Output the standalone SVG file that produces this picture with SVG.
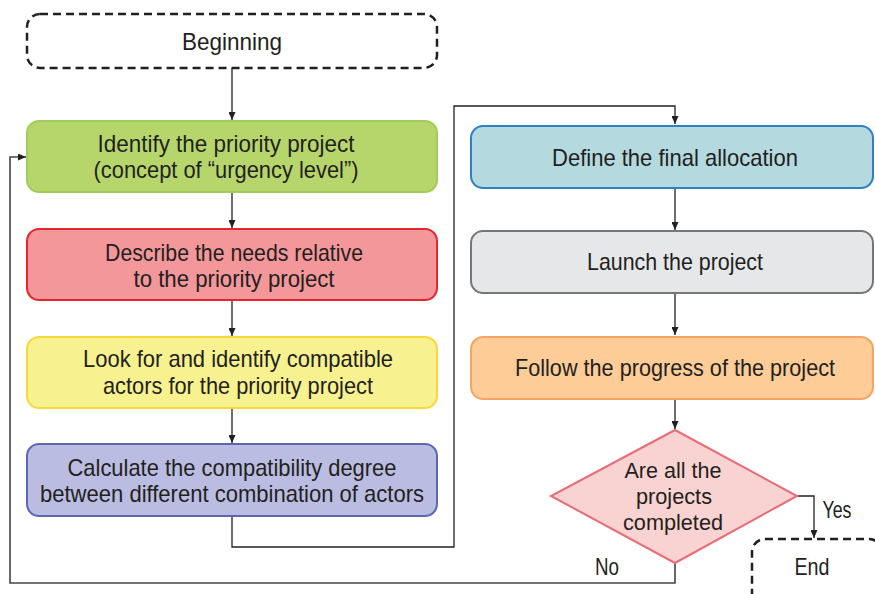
<svg xmlns="http://www.w3.org/2000/svg" width="875" height="594" viewBox="0 0 875 594">
<defs>
<marker id="arr" markerWidth="8" markerHeight="7" refX="8" refY="3.5" orient="auto" markerUnits="userSpaceOnUse">
<path d="M0,0 L8,3.5 L0,7 z" fill="#231f20"/>
</marker>
</defs>
<style>
text{font-family:"Liberation Sans",Arial,sans-serif;font-size:24px;fill:#231f20;text-anchor:middle}
.dt{font-size:22px}
.box{stroke-width:2}
.dash{fill:#fff;stroke:#231f20;stroke-width:2.5;stroke-dasharray:8 5}
.con{fill:none;stroke:#231f20;stroke-width:1.3}
</style>
<rect width="875" height="594" fill="#fff"/>
<g id="connectors">
<path class="con" d="M232 68 V120" marker-end="url(#arr)"/>
<path class="con" d="M232 192 V228" marker-end="url(#arr)"/>
<path class="con" d="M232 301 V336" marker-end="url(#arr)"/>
<path class="con" d="M232 408 V443" marker-end="url(#arr)"/>
<path class="con" d="M232 517 V547 H454 V106 H675 V124" marker-end="url(#arr)"/>
<path class="con" d="M675 188 V230" marker-end="url(#arr)"/>
<path class="con" d="M675 293 V335" marker-end="url(#arr)"/>
<path class="con" d="M675 399 V429" marker-end="url(#arr)"/>
<path class="con" d="M797 496 H814 V538" marker-end="url(#arr)"/>
<path class="con" d="M675 563 V583 H10 V157 H26" marker-end="url(#arr)" style="stroke:#444;stroke-width:1.6"/>
<text x="837" y="518" textLength="29" lengthAdjust="spacingAndGlyphs">Yes</text>
<text x="607" y="575" textLength="24" lengthAdjust="spacingAndGlyphs">No</text>
</g>
<g id="beginning">
<rect class="dash" x="27" y="14" width="410" height="54" rx="13"/>
<text x="232" y="50" textLength="100" lengthAdjust="spacingAndGlyphs">Beginning</text>
</g>
<g id="identify">
<rect class="box" x="27" y="121" width="410" height="71" rx="12" fill="#b6d66c" stroke="#a0cc5a"/>
<text x="226" y="152" textLength="257" lengthAdjust="spacingAndGlyphs">Identify the priority project</text>
<text x="226" y="178" textLength="265" lengthAdjust="spacingAndGlyphs">(concept of “urgency level”)</text>
</g>
<g id="describe">
<rect class="box" x="27" y="229" width="410" height="71" rx="12" fill="#f4979a" stroke="#e4262d"/>
<text x="234" y="261" textLength="258" lengthAdjust="spacingAndGlyphs">Describe the needs relative</text>
<text x="234" y="287" textLength="201" lengthAdjust="spacingAndGlyphs">to the priority project</text>
</g>
<g id="look">
<rect class="box" x="27" y="337" width="410" height="71" rx="12" fill="#f7f18f" stroke="#f5d93c"/>
<text x="238" y="367" textLength="310" lengthAdjust="spacingAndGlyphs">Look for and identify compatible</text>
<text x="238" y="394" textLength="270" lengthAdjust="spacingAndGlyphs">actors for the priority project</text>
</g>
<g id="calculate">
<rect class="box" x="27" y="444" width="410" height="72" rx="12" fill="#babde1" stroke="#5b67b0"/>
<text x="232" y="476" textLength="329" lengthAdjust="spacingAndGlyphs">Calculate the compatibility degree</text>
<text x="232" y="502" textLength="384" lengthAdjust="spacingAndGlyphs">between different combination of actors</text>
</g>
<g id="define">
<rect class="box" x="471" y="126" width="402" height="62" rx="12" fill="#b4d9df" stroke="#2f80c4"/>
<text x="675" y="166" textLength="246" lengthAdjust="spacingAndGlyphs">Define the final allocation</text>
</g>
<g id="launch">
<rect class="box" x="471" y="231" width="402" height="62" rx="12" fill="#e6e7e9" stroke="#777"/>
<text x="675" y="270" textLength="176" lengthAdjust="spacingAndGlyphs">Launch the project</text>
</g>
<g id="follow">
<rect class="box" x="471" y="337" width="402" height="62" rx="12" fill="#fdcc97" stroke="#f6a463"/>
<text x="675" y="376" textLength="320" lengthAdjust="spacingAndGlyphs">Follow the progress of the project</text>
</g>
<g id="decision">
<path d="M675 430 L797 496 L675 563 L551 496 z" fill="#f9d3d2" stroke="#e86b76" stroke-width="2"/>
<text class="dt" x="673" y="478" textLength="97" lengthAdjust="spacingAndGlyphs">Are all the</text>
<text class="dt" x="674" y="504" textLength="76" lengthAdjust="spacingAndGlyphs">projects</text>
<text class="dt" x="673" y="530" textLength="100" lengthAdjust="spacingAndGlyphs">completed</text>
</g>
<g id="end">
<rect class="dash" x="752" y="539" width="130" height="70" rx="13"/>
<text x="812" y="575" textLength="35" lengthAdjust="spacingAndGlyphs">End</text>
</g>
</svg>
